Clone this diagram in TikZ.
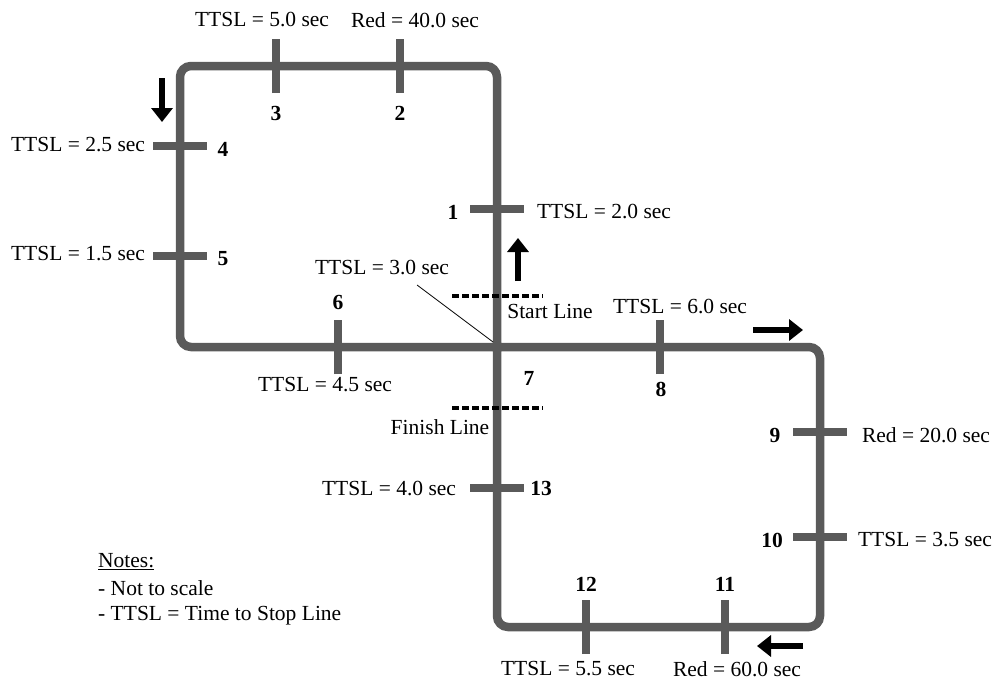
\documentclass[tikz,border=0pt]{standalone}
\usepackage{fontspec}
\setmainfont{Liberation Serif}
\usetikzlibrary{arrows.meta}
\definecolor{trackgray}{HTML}{5A5A5A}
\begin{document}
\begin{tikzpicture}[x=1pt,y=-1pt,
  track/.style={draw=trackgray,line width=8.5pt,rounded corners=11pt},
  tickbar/.style={draw=trackgray,line width=8.5pt},
  lbl/.style={inner sep=0pt,font=\fontsize{21.5}{24}\selectfont},
  num/.style={inner sep=0pt,font=\fontsize{21.5}{24}\selectfont\bfseries},
  dirarrow/.style={line width=6.5pt,-{Triangle[length=14pt,width=21pt]}},
  dotline/.style={line width=3.5pt,dash pattern=on 7pt off 3pt},
  leader/.style={line width=0.8pt}]
\useasboundingbox (0,0) rectangle (997,680);
% track corners
\coordinate (S0) at (497,500);
\coordinate (UR) at (497,66);
\coordinate (UL) at (180,66);
\coordinate (LL) at (180,347);
\coordinate (X) at (497,347);
\coordinate (RT) at (820,347);
\coordinate (RB) at (820,627);
\coordinate (BL) at (497,627);
\draw[track] (S0) -- (UR) -- (UL) -- (LL) -- (RT) -- (RB) -- (BL) -- cycle;
% ticks on horizontal segments (vertical bars)
\foreach \n/\x/\y in {t3/276/66, t2/400/66, t6/338/347, t8/660/347, t12/586/627, t11/725/627}{
  \coordinate (\n) at (\x,\y);
  \draw[tickbar] ([yshift=-27pt]\n) -- ([yshift=27pt]\n);
}
% ticks on vertical segments (horizontal bars)
\foreach \n/\x/\y in {t4/180/146, t5/180/256, t1/497/209, t13/497/488, t9/820/432, t10/820/537}{
  \coordinate (\n) at (\x,\y);
  \draw[tickbar] ([xshift=-27pt]\n) -- ([xshift=27pt]\n);
}
% numbers
\node[num] (n1) at (453,212) {1};
\node[num] (n2) at (400,113) {2};
\node[num] (n3) at (276,113) {3};
\node[num] (n4) at (223,149) {4};
\node[num] (n5) at (223,259) {5};
\node[num] (n6) at (338,302) {6};
\node[num] (n7) at (529,378) {7};
\node[num] (n8) at (661,389) {8};
\node[num] (n9) at (775,435) {9};
\node[num] (n10) at (772,540) {10};
\node[num] (n11) at (725,584) {11};
\node[num] (n12) at (586,584) {12};
\node[num] (n13) at (541,488) {13};
% labels
\node[lbl] (l3) at (262,20) {TTSL = 5.0 sec};
\node[lbl] (l2) at (415,20) {Red = 40.0 sec};
\node[lbl] (l4) at (78,145) {TTSL = 2.5 sec};
\node[lbl] (l5) at (78,254) {TTSL = 1.5 sec};
\node[lbl] (l1) at (604,212) {TTSL = 2.0 sec};
\node[lbl] (l7) at (382,268) {TTSL = 3.0 sec};
\node[lbl] (start) at (550,311) {Start Line};
\node[lbl] (finish) at (440,427) {Finish Line};
\node[lbl] (l6) at (325,385) {TTSL = 4.5 sec};
\node[lbl] (l8) at (680,307) {TTSL = 6.0 sec};
\node[lbl] (l9) at (926,435) {Red = 20.0 sec};
\node[lbl] (l10) at (925,540) {TTSL = 3.5 sec};
\node[lbl] (l13) at (389,488) {TTSL = 4.0 sec};
\node[lbl] (l12) at (568,669) {TTSL = 5.5 sec};
\node[lbl] (l11) at (737,669) {Red = 60.0 sec};
% notes
\node[lbl,anchor=west] (notes) at (98,562) {\underline{Notes:}};
\node[lbl,anchor=west] (note1) at (98,588) {- Not to scale};
\node[lbl,anchor=west] (note2) at (98,616) {- TTSL = Time to Stop Line};
% leader line
\coordinate (ld) at (417,285);
\coordinate (le) at (493,342);
\draw[leader] (ld) -- (le);
% start / finish lines
\coordinate (sl1) at (452,296);
\coordinate (sl2) at (543,296);
\coordinate (fl1) at (452,408);
\coordinate (fl2) at (543,408);
\draw[dotline] (sl1) -- (sl2);
\draw[dotline] (fl1) -- (fl2);
% direction arrows
\coordinate (ad1) at (162,78);
\coordinate (ad2) at (162,122);
\coordinate (au1) at (518,281);
\coordinate (au2) at (518,238);
\coordinate (ar1) at (753,330);
\coordinate (ar2) at (803,330);
\coordinate (al1) at (803,646);
\coordinate (al2) at (757,646);
\draw[dirarrow] (ad1) -- (ad2);
\draw[dirarrow] (au1) -- (au2);
\draw[dirarrow] (ar1) -- (ar2);
\draw[dirarrow] (al1) -- (al2);
\end{tikzpicture}
\end{document}
